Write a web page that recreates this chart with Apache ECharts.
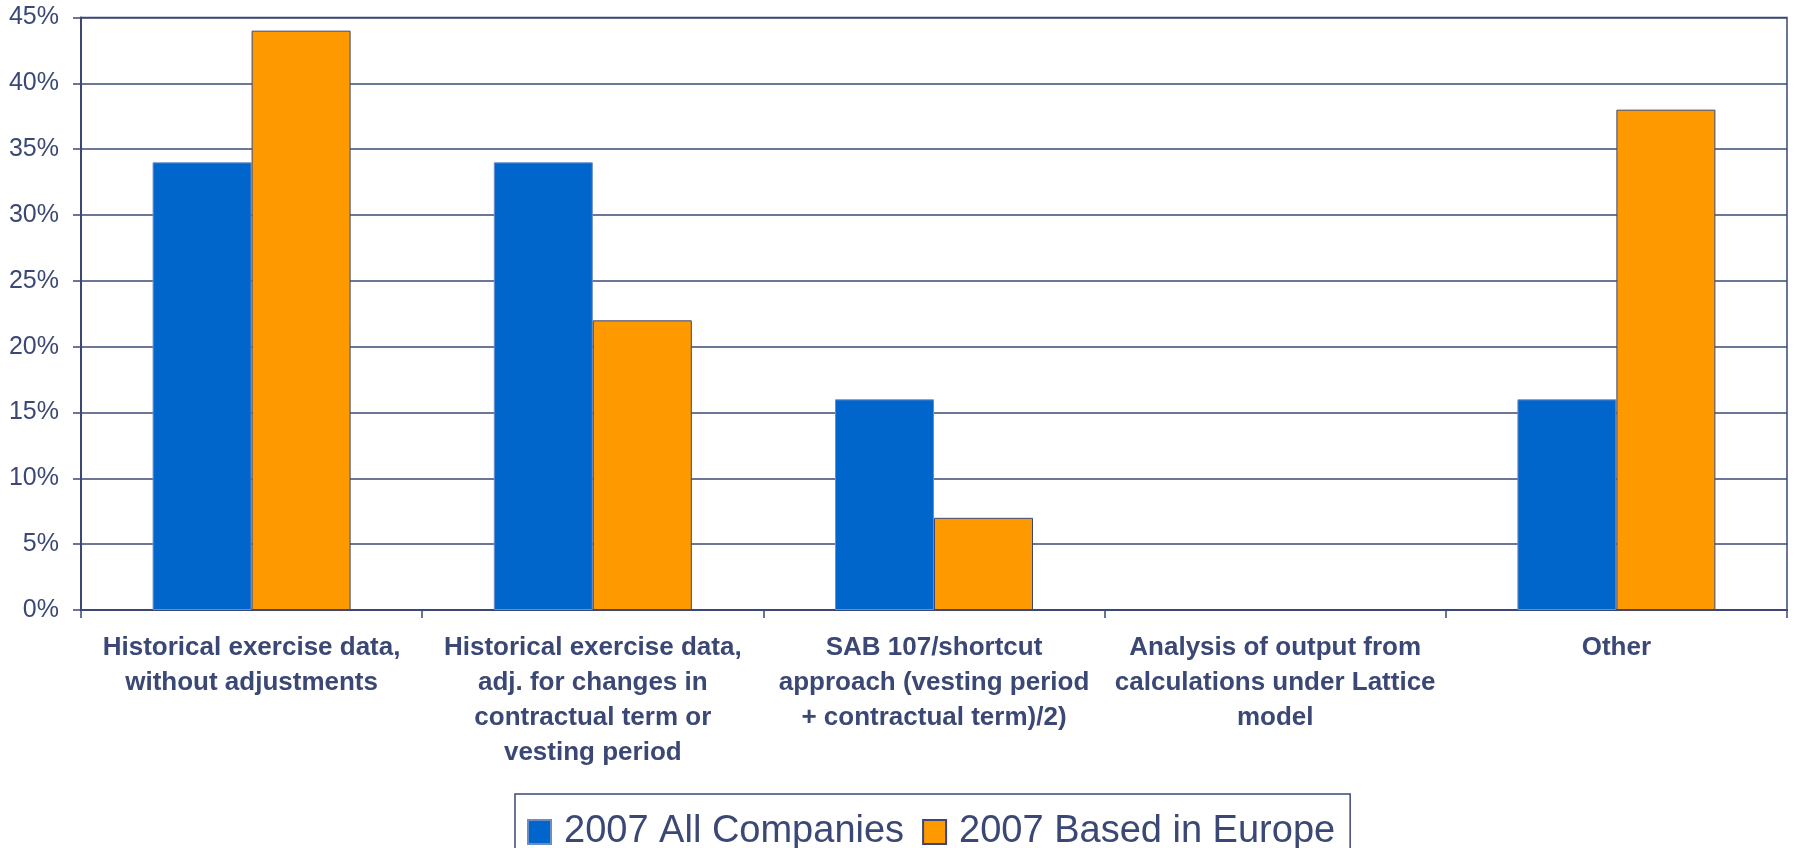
<!DOCTYPE html>
<html>
<head>
<meta charset="utf-8">
<script src="https://cdn.jsdelivr.net/npm/echarts@6/dist/echarts.min.js"></script>
<style>
html,body{margin:0;padding:0;background:#fff;}
#chart{width:1794px;height:848px;}
</style>
</head>
<body>
<div id="chart"></div>
<script>
const categories = [
  'Historical exercise data,\nwithout adjustments',
  'Historical exercise data,\nadj. for changes in\ncontractual term or\nvesting period',
  'SAB 107/shortcut\napproach (vesting period\n+ contractual term)/2)',
  'Analysis of output from\ncalculations under Lattice\nmodel',
  'Other'
];
const seriesNames = ['2007 All Companies', '2007 Based in Europe'];
const allCompanies = [34, 34, 16, 0, 16];
const basedInEurope = [44, 22, 7, 0, 38];
const yTicks = { min: 0, max: 45, interval: 5 };

const navy = '#3b4876';
function toItems(arr) {
  return arr.map(v => v === 0 ? { value: v, itemStyle: { borderWidth: 0 } } : v);
}
const chart = echarts.init(document.getElementById('chart'));
chart.setOption({
  animation: false,
  backgroundColor: '#ffffff',
  textStyle: { fontFamily: 'Liberation Sans, Arial, sans-serif' },
  grid: {
    left: 81, right: 7, top: 17.5, bottom: 238,
    show: true, borderColor: navy, borderWidth: 1.5, backgroundColor: 'transparent'
  },
  legend: {
    left: 515, top: 794,
    padding: [19, 15, 18, 12],
    borderColor: navy, borderWidth: 1.5,
    icon: 'rect', itemWidth: 23, itemHeight: 24, itemGap: 18,
    textStyle: { fontSize: 38, color: navy, padding: [0, 0, 0, 8], fontFamily: 'Liberation Sans, Arial, sans-serif' },
    data: seriesNames
  },
  xAxis: {
    type: 'category',
    data: categories,
    axisLine: { lineStyle: { color: navy, width: 2 } },
    axisTick: { show: true, length: 8, lineStyle: { color: navy, width: 1.5 } },
    axisLabel: {
      interval: 0, margin: 20, fontSize: 26, fontWeight: 'bold', color: navy,
      lineHeight: 35, align: 'center'
    }
  },
  yAxis: {
    type: 'value',
    min: yTicks.min, max: yTicks.max, interval: yTicks.interval,
    axisLine: { show: true, lineStyle: { color: navy, width: 2 } },
    axisTick: { show: true, length: 8, lineStyle: { color: navy, width: 1.5 } },
    axisLabel: { formatter: '{value}%', fontSize: 25, color: navy, margin: 22 },
    splitLine: { show: true, lineStyle: { color: navy, width: 1.5 } }
  },
  series: [
    {
      name: seriesNames[0], type: 'bar', data: toItems(allCompanies),
      barWidth: 99, barGap: '0%',
      itemStyle: { color: '#0066cc', borderColor: '#6d8cc4', borderWidth: 1 }
    },
    {
      name: seriesNames[1], type: 'bar', data: toItems(basedInEurope),
      barWidth: 99, barGap: '0%',
      itemStyle: { color: '#ff9900', borderColor: '#3b4876', borderWidth: 1 }
    }
  ]
});
</script>
</body>
</html>
